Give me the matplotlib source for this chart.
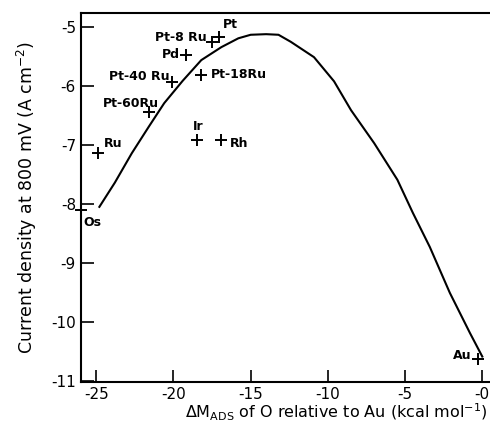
import matplotlib.pyplot as plt

plt.rcParams['axes.unicode_minus'] = False
plt.rcParams['font.family'] = ['DejaVu Sans']

# 实验点
metals = ['Pt', 'Pt-8 Ru', 'Pd', 'Pt-40 Ru', 'Pt-18Ru', 'Pt-60Ru', 'Ir', 'Rh', 'Ru', 'Os', 'Au']
dm_ads = [-17.05, -17.5, -19.2, -20.1, -18.2, -21.6, -18.5, -16.9, -24.9, -26.0, -0.25]
log_j = [-5.17, -5.25, -5.47, -5.93, -5.81, -6.44, -6.92, -6.92, -7.14, -8.1, -10.64]

# 火山曲线
curve_x = [-24.8, -23.8, -22.7, -21.6, -20.6, -19.4, -18.2, -16.9, -15.8, -15.0,
           -14.0, -13.2, -12.4, -10.9, -9.6, -8.5, -7.0, -5.5, -4.5, -3.4,
           -2.1, -0.8, 0.0]
curve_y = [-8.05, -7.64, -7.14, -6.69, -6.29, -5.91, -5.56, -5.34, -5.19, -5.13,
           -5.12, -5.13, -5.25, -5.51, -5.92, -6.41, -6.97, -7.59, -8.15, -8.73,
           -9.51, -10.19, -10.59]

xticks = [-25, -20, -15, -10, -5, 0]
xtick_labels = ['-25', '-20', '-15', '-10', '-5', '-0']
yticks = [-5, -6, -7, -8, -9, -10, -11]

# 标签偏移 (points) 和对齐
offsets = {
    'Pt': (3, 9, 'left'), 'Pt-8 Ru': (-4, 3, 'right'), 'Pd': (-4, 0, 'right'),
    'Pt-40 Ru': (-2, 4, 'right'), 'Pt-18Ru': (7, 0, 'left'), 'Pt-60Ru': (7, 6, 'right'),
    'Ir': (1, 10, 'center'), 'Rh': (6, -2, 'left'), 'Ru': (4, 7, 'left'),
    'Os': (1.5, -9, 'left'), 'Au': (-5, 3, 'right'),
}

fig = plt.figure(figsize=(4.9, 4.32), dpi=100)
ax = fig.add_axes([0.165, 0.116, 0.835, 0.854])

ax.plot(curve_x, curve_y, color='black', lw=1.5)
ax.plot(dm_ads, log_j, linestyle='none', marker='+', markersize=8,
        markeredgewidth=1.4, color='black', clip_on=False)

for name, x, y in zip(metals, dm_ads, log_j):
    dx, dy, ha = offsets[name]
    ax.annotate(name, (x, y), xytext=(dx, dy), textcoords='offset points',
                fontsize=9, fontweight='bold', va='center', ha=ha)

ax.set_xlim(-26, 0.5)
ax.set_ylim(-11.02, -4.76)
ax.set_xticks(xticks)
ax.set_xticklabels(xtick_labels)
ax.set_yticks(yticks)
ax.tick_params(direction='in', length=9, width=1.2, labelsize=11)
ax.spines['right'].set_visible(False)
for s in ['left', 'bottom', 'top']:
    ax.spines[s].set_linewidth(1.5)

ax.set_ylabel('Current density at 800 mV (A cm$^{-2}$)', fontsize=12.5, labelpad=9)
fig.text(0.995, 0.02, r'$\Delta$M$_{\rm ADS}$ of O relative to Au (kcal mol$^{-1}$)',
         fontsize=11.5, ha='right', va='bottom')

fig.savefig('out.png', dpi=100)
